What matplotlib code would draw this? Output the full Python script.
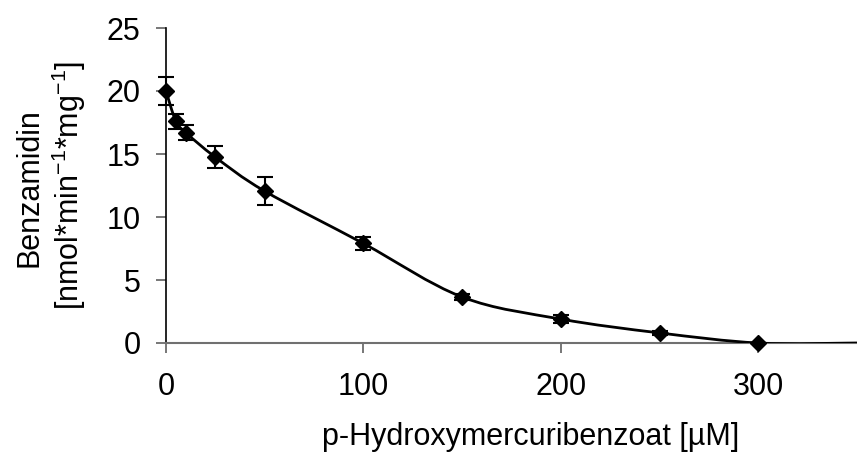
import numpy as np
import matplotlib.pyplot as plt
from matplotlib.path import Path
from matplotlib.patches import PathPatch

# data
conc = [0, 5, 10, 25, 50, 100, 150, 200, 250, 300]
activity = [20.0, 17.6, 16.7, 14.75, 12.05, 7.9, 3.65, 1.9, 0.8, 0.0]
err = [1.15, 0.6, 0.6, 0.85, 1.1, 0.5, 0.25, 0.35, 0.15, 0.0]

# the trend line runs on to the end of the axis
line_x = conc + [350]
line_y = activity + [0.0]

plt.rcParams["font.family"] = ["Liberation Sans", "DejaVu Sans"]
plt.rcParams["mathtext.default"] = "regular"

fig = plt.figure(figsize=(8.57, 4.59), dpi=100)
ax = fig.add_axes([166 / 857, 1 - 343 / 459, 691 / 857, 315 / 459])

# smoothed line (Catmull-Rom as cubic Bezier, like Excel's smooth line)
pts = np.column_stack([line_x, line_y])
verts = [tuple(pts[0])]
codes = [Path.MOVETO]
n = len(pts)
for i in range(n - 1):
    p0 = pts[i - 1] if i > 0 else pts[i]
    p1 = pts[i]
    p2 = pts[i + 1]
    p3 = pts[i + 2] if i + 2 < n else pts[i + 1]
    c1 = p1 + (p2 - p0) / 6.0
    c2 = p2 - (p3 - p1) / 6.0
    verts += [tuple(c1), tuple(c2), tuple(p2)]
    codes += [Path.CURVE4] * 3
ax.add_patch(PathPatch(Path(verts, codes), fill=False, edgecolor="black",
                       linewidth=2, zorder=3))

eb = ax.errorbar(conc, activity, yerr=err, fmt="D", color="black",
                 markersize=8.5, ecolor="black", elinewidth=1.5, capsize=5.5,
                 capthick=1.5, zorder=4)
for art in eb.lines[0:1] + tuple(eb.lines[1]) + tuple(eb.lines[2]):
    art.set_clip_on(False)

ax.set_xlim(0, 350)
ax.set_ylim(0, 25)
ax.set_xticks([0, 100, 200, 300])
ax.set_yticks([0, 5, 10, 15, 20, 25])

for s in ["top", "right"]:
    ax.spines[s].set_visible(False)
ax.spines["left"].set_color("black")
ax.spines["bottom"].set_color("#707070")
ax.spines["left"].set_linewidth(1.2)
ax.spines["bottom"].set_linewidth(1.5)
ax.tick_params(axis="both", direction="out", length=7.2, width=1.2,
               color="#606060", labelsize=22)
ax.tick_params(axis="x", pad=14)
ax.tick_params(axis="y", pad=11)

fig.text(531 / 857, 1 - 445 / 459, "p-Hydroxymercuribenzoat [µM]",
         fontsize=22, ha="center", va="baseline")
fig.text(37 / 857, 1 - 188 / 459, "Benzamidin", fontsize=22, rotation=90,
         rotation_mode="anchor", ha="center", va="baseline")
fig.text(79 / 857, 1 - 185 / 459, "[nmol*min$^{-1}$*mg$^{-1}$]", fontsize=22,
         rotation=90, rotation_mode="anchor", ha="center", va="baseline")

fig.savefig("out.png", dpi=100)
